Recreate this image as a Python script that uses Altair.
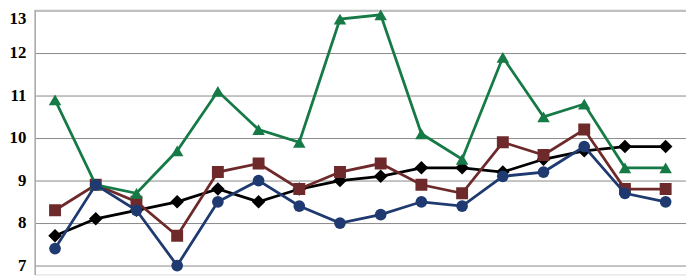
import altair as alt
import pandas as pd

x_idx = list(range(16))
black = [7.7, 8.1, 8.3, 8.5, 8.8, 8.5, 8.8, 9.0, 9.1, 9.3, 9.3, 9.2, 9.5, 9.7, 9.8, 9.8]
red = [8.3, 8.9, 8.5, 7.7, 9.2, 9.4, 8.8, 9.2, 9.4, 8.9, 8.7, 9.9, 9.6, 10.2, 8.8, 8.8]
green = [10.9, 8.9, 8.7, 9.7, 11.1, 10.2, 9.9, 12.8, 12.9, 10.1, 9.5, 11.9, 10.5, 10.8, 9.3, 9.3]
blue = [7.4, 8.9, 8.3, 7.0, 8.5, 9.0, 8.4, 8.0, 8.2, 8.5, 8.4, 9.1, 9.2, 9.8, 8.7, 8.5]
y_ticks = [7, 8, 9, 10, 11, 12, 13]

series = [
    ("black", black, "#000000", "diamond", 190),
    ("red", red, "#6E2A2A", "square", 145),
    ("green", green, "#167A46", "triangle-up", 160),
    ("blue", blue, "#1F3A70", "circle", 140),
]

ydom = [7 - 9 / 43, 13 + 1 / 43]
xscale = alt.Scale(domain=[-0.5, 15.5], nice=False, zero=False)
yscale = alt.Scale(domain=ydom, nice=False, zero=False)

layers = []
for i, (name, vals, color, shape, size) in enumerate(series):
    df = pd.DataFrame({"x": x_idx, "y": vals})
    if i == 0:
        yenc = alt.Y(
            "y:Q",
            scale=yscale,
            axis=alt.Axis(
                values=y_ticks,
                title=None,
                grid=True,
                gridColor="#8a8a8a",
                gridWidth=1,
                ticks=False,
                domain=True,
                domainColor="#a8a8a8",
                domainWidth=1.5,
                labelFont="Liberation Serif",
                labelFontWeight="bold",
                labelFontSize=17,
                labelColor="#000000",
                labelPadding=9,
                labelOffset={"condition": {"test": "datum.value == 13", "value": 8}, "value": 0},
            ),
        )
    else:
        yenc = alt.Y("y:Q", scale=yscale)
    base = alt.Chart(df).encode(
        x=alt.X("x:Q", scale=xscale, axis=None),
        y=yenc,
    )
    line = base.mark_line(color=color, strokeWidth=2.8, clip=True)
    pts = base.mark_point(
        shape=shape, size=size, filled=True, color=color, opacity=1, clip=True
    )
    layers += [line, pts]

chart = (
    alt.layer(*layers)
    .properties(
        width=659,
        height=268,
        autosize=alt.AutoSizeParams(type="none"),
        padding={"left": 27, "top": 0, "right": 0, "bottom": 0},
    )
    .configure_view(stroke=None)
    .configure(background="white")
)

chart.save("out.html", embed_options={"renderer": "svg", "actions": False})
